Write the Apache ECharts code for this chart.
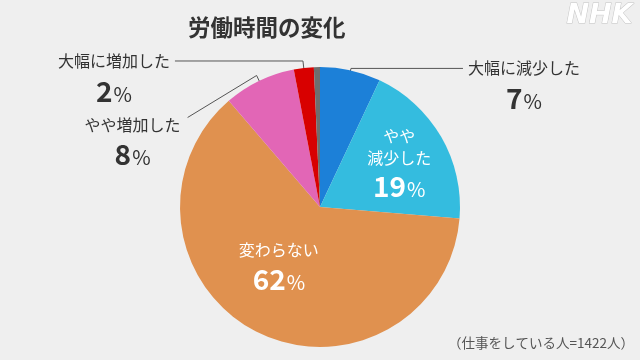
<!DOCTYPE html>
<html><head><meta charset="utf-8">
<script src="https://cdn.jsdelivr.net/npm/echarts@6/dist/echarts.min.js"></script>
<style>html,body{margin:0;padding:0;background:#efefef}#c{width:640px;height:360px}</style>
</head><body><div id="c"></div>
<script>
const categories = ['大幅に減少した','やや減少した','変わらない','やや増加した','大幅に増加した','無回答'];
const values = [7.0, 19.3, 62.4, 8.3, 2.3, 0.7];
const shownPercents = ['7','19','62','8','2',''];
const labelNames = ['大幅に減少した','やや\n減少した','変わらない','やや増加した','大幅に増加した',''];
const colors = ['#1c80d8','#34bcdf','#e0914f','#e266b6','#d80000','#6e6e6e'];
const insideIdx = [1,2];
const outsideIdx = [0,3,4];

const FONT = '"Noto Sans CJK JP", "Noto Sans", sans-serif';
const lineLen = {0:[14,112], 3:[18,40], 4:[19,128]};

function fmt(p){
  const i = p.dataIndex;
  const names = labelNames[i].split('\n').map(s => '{n|' + s + '}').join('\n');
  return names + '\n{v|' + shownPercents[i] + '}{p|%}';
}
function rich(color, inside){
  return {
    n:{fontSize:16, lineHeight:inside?22:24, color:color, align:'center', fontFamily:FONT},
    v:{fontSize:28, fontWeight:'bold', lineHeight:32, color:color, align:'center', verticalAlign:'bottom', fontFamily:FONT},
    p:{fontSize:20, lineHeight:32, color:color, align:'center', verticalAlign:'bottom', fontFamily:FONT, padding:[0,0,1,1]}
  };
}

const chart = echarts.init(document.getElementById('c'));
chart.setOption({
  backgroundColor:'#efefef',
  animation:false,
  title:{text:'労働時間の変化', left:183, top:11, textStyle:{fontSize:22.5, fontWeight:'bold', color:'#333', fontFamily:FONT}},
  graphic:[
    {type:'text', right:7, top:2, style:{text:'NHK', fontSize:27, fontWeight:'bold', fontStyle:'italic', fontFamily:'"DejaVu Sans", sans-serif', fill:'#ffffff', stroke:'#c4c4c4', lineWidth:1}},
    {type:'text', right:6, bottom:10, style:{text:'（仕事をしている人=1422人）', fontSize:13.5, fill:'#555', fontFamily:FONT}}
  ],
  series:[
    {
      type:'pie', radius:140, center:[320,207], startAngle:90, clockwise:true, silent:true,
      data: values.map((v,i)=>({value:v, name:categories[i], itemStyle:{color:colors[i]}, label:{show: insideIdx.includes(i)}})),
      label:{position:'inside', formatter:fmt, rich:rich('#fff', true)},
      labelLine:{show:false},
      labelLayout: function(p){
        if (p.dataIndex === 1) return {dx:16, dy:-8};
        if (p.dataIndex === 2) return {dx:-8, dy:-6};
      }
    },
    {
      type:'pie', radius:128, center:[320,207], startAngle:90, clockwise:true, silent:true,
      avoidLabelOverlap:false,
      itemStyle:{color:'rgba(0,0,0,0)'},
      data: values.map((v,i)=>{
        const show = outsideIdx.includes(i);
        return {value:v, name:categories[i], label:{show:show},
          labelLine: show ? {show:true, length:lineLen[i][0], length2:lineLen[i][1]} : {show:false}};
      }),
      label:{position:'outside', formatter:fmt, rich:rich('#333', false), padding:[32,0,0,0]},
      labelLine:{lineStyle:{color:'#555', width:1}},
      labelLayout: function(p){
        if (p.dataIndex === 3 && p.labelLinePoints) {
          const pts = p.labelLinePoints;
          const dx = -31, dy = 49;
          return {dx:dx, dy:dy, labelLinePoints:[pts[0], pts[1], [pts[2][0] + dx + 2, pts[2][1] + dy - 7]]};
        }
      }
    }
  ]
});
</script></body></html>
